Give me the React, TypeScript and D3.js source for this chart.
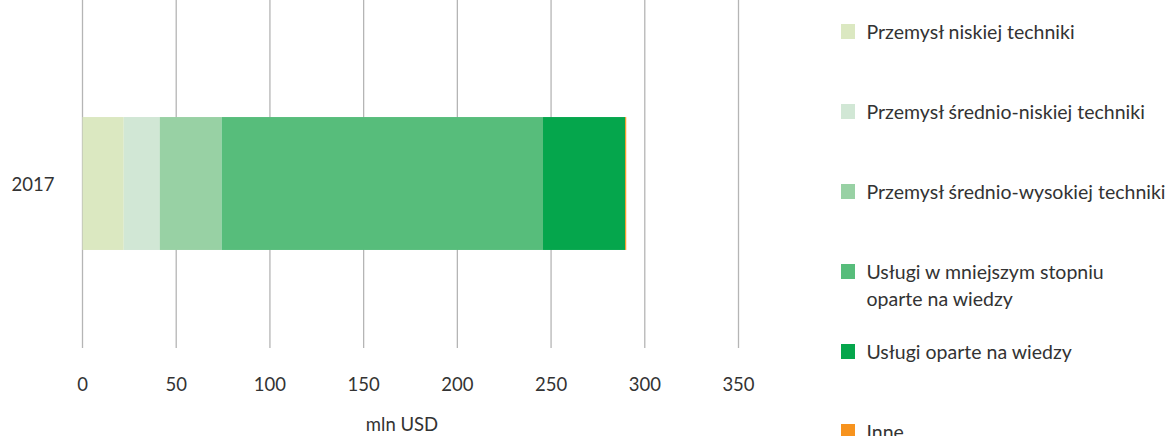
import React from "react";
import * as d3 from "d3";

// Stacked export structure by technology intensity, mln USD
const years = ["2017"];
const seriesNames = [
  "Przemysł niskiej techniki",
  "Przemysł średnio-niskiej techniki",
  "Przemysł średnio-wysokiej techniki",
  "Usługi w mniejszym stopniu oparte na wiedzy",
  "Usługi oparte na wiedzy",
  "Inne",
];
const legendLines = [
  ["Przemysł niskiej techniki"],
  ["Przemysł średnio-niskiej techniki"],
  ["Przemysł średnio-wysokiej techniki"],
  ["Usługi w mniejszym stopniu", "oparte na wiedzy"],
  ["Usługi oparte na wiedzy"],
  ["Inne"],
];
const values2017 = [22, 19.2, 33, 171.5, 43.8, 0.6];
const colors = ["#dbe8c1", "#d1e7d5", "#98d1a4", "#57bd7b", "#05a64c", "#f7931e"];
const xTicks = [0, 50, 100, 150, 200, 250, 300, 350];
const axisTitle = "mln USD";

const W = 1172;
const H = 436;
const FONT = "Lato, 'Open Sans', sans-serif";
const TEXT = "#333333";

export default function App() {
  const x = d3.scaleLinear().domain([0, 350]).range([82.5, 738.5]);
  const y = d3.scaleBand<string>().domain(years).range([18, 349]).padding(0.427);

  const rows = years.map((yr) => {
    const obj: Record<string, number | string> = { year: yr };
    seriesNames.forEach((s, i) => (obj[s] = values2017[i]));
    return obj;
  });
  const stacked = d3.stack<Record<string, any>>().keys(seriesNames)(rows);

  const legendY = [31.5, 111.5, 191.5, 271.5, 351.5, 431.5];

  return (
    <svg
      width={W}
      height={H}
      style={{ position: "absolute", left: 0, top: 0, background: "#fff" }}
      fontFamily={FONT}
    >
      {xTicks.map((t) => (
        <line key={t} x1={x(t)} x2={x(t)} y1={0} y2={348} stroke="#b5b5b5" strokeWidth={1.3} />
      ))}
      {stacked.map((layer, i) =>
        layer.map((d, j) => (
          <rect
            key={`${i}-${j}`}
            x={x(d[0])}
            width={x(d[1]) - x(d[0])}
            y={y(years[j])}
            height={y.bandwidth()}
            fill={colors[i]}
          />
        ))
      )}
      {xTicks.map((t) => (
        <text key={t} x={x(t)} y={391} textAnchor="middle" fontSize={18.5} fill={TEXT}>
          {t}
        </text>
      ))}
      <text x={402} y={431} textAnchor="middle" fontSize={18.5} fill={TEXT}>
        {axisTitle}
      </text>
      {years.map((yr) => (
        <text
          key={yr}
          x={11.5}
          y={(y(yr) ?? 0) + y.bandwidth() / 2 + 7.5}
          textAnchor="start"
          fontSize={18.5}
          fill={TEXT}
        >
          {yr}
        </text>
      ))}
      {legendLines.map((lines, i) => (
        <g key={i}>
          <rect x={841} y={legendY[i] - 7.5} width={14} height={15} fill={colors[i]} />
          {lines.map((ln, k) => (
            <text key={k} x={866.5} y={legendY[i] + 7.5 + k * 26.5} fontSize={19.5} fill={TEXT}>
              {ln}
            </text>
          ))}
        </g>
      ))}
    </svg>
  );
}
